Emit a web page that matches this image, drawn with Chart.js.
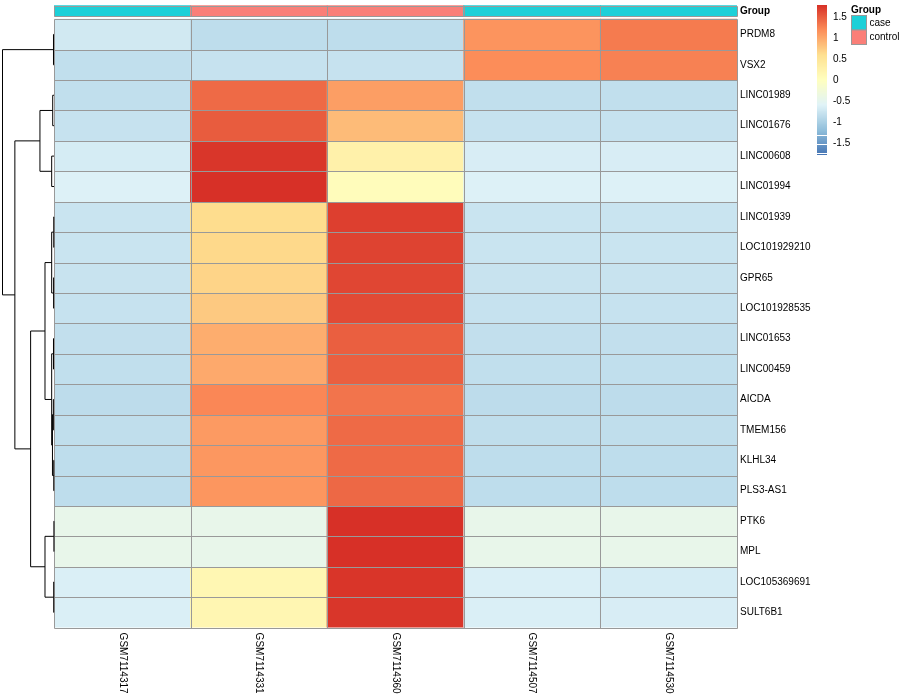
<!DOCTYPE html>
<html><head><meta charset="utf-8">
<script src="https://cdn.jsdelivr.net/npm/chart.js@4.4.1/dist/chart.umd.min.js"></script>
<style>html,body{margin:0;padding:0;background:#fff}canvas{display:block}</style>
</head><body>
<canvas id="c" width="900" height="700"></canvas>
<script>
// ---------- data ----------
const rowLabels = ["PRDM8","VSX2","LINC01989","LINC01676","LINC00608","LINC01994","LINC01939","LOC101929210","GPR65","LOC101928535","LINC01653","LINC00459","AICDA","TMEM156","KLHL34","PLS3-AS1","PTK6","MPL","LOC105369691","SULT6B1"];
const sampleLabels = ["GSM7114317","GSM7114331","GSM7114360","GSM7114507","GSM7114530"];
const sampleGroups = ["case","control","control","case","case"];
const groupNames = ["case","control"];
const groupColors = ["#1DD0D8","#FA7F78"];

// row-scaled expression (z-scores), one array per sample
const valsGSM7114317 = [-0.71,-0.83,-0.83,-0.79,-0.68,-0.62,-0.77,-0.77,-0.78,-0.79,-0.82,-0.83,-0.86,-0.84,-0.85,-0.85,-0.447,-0.447,-0.64,-0.64];
const valsGSM7114331 = [-0.85,-0.79,1.42,1.51,1.75,1.79,0.62,0.65,0.68,0.76,0.96,0.99,1.23,1.10,1.12,1.13,-0.447,-0.447,0.15,0.17];
const valsGSM7114360 = [-0.85,-0.79,1.07,0.86,0.27,0.05,1.69,1.67,1.65,1.62,1.49,1.49,1.35,1.42,1.42,1.43,1.789,1.789,1.76,1.75];
const valsGSM7114507 = [1.14,1.19,-0.83,-0.79,-0.66,-0.62,-0.77,-0.77,-0.78,-0.79,-0.82,-0.83,-0.86,-0.84,-0.85,-0.85,-0.447,-0.447,-0.64,-0.64];
const valsGSM7114530 = [1.31,1.27,-0.83,-0.79,-0.66,-0.62,-0.77,-0.77,-0.78,-0.79,-0.82,-0.83,-0.86,-0.84,-0.85,-0.85,-0.447,-0.447,-0.68,-0.66];

// colour scale
const paletteColors = ["#4575B4","#91BFDB","#E0F3F8","#FFFFBF","#FEE090","#FC8D59","#D73027"];
const scaleMin = -1.789, scaleMax = 1.789;
const legendTicks = [1.5, 1, 0.5, 0, -0.5, -1, -1.5];
const legendGaps = [-1.31, -1.52, -1.73];

// row dendrogram (hclust style: negative = leaf index, positive = merge index)
const mergeLeft   = [-1,-3,-5, 2,-7,-9, 5,-11,-13,-15, 9, 8, 7,-17,-19,14,13, 4, 1];
const mergeRight  = [-2,-4,-6, 3,-8,-10,6,-12,-14,-16,10,11,12,-18,-20,15,16,17,18];
const mergeHeight = [0.1,0.25,0.45,2.73,0.05,0.08,0.45,0.1,0.12,0.05,0.3,0.45,1.75,0.02,0.06,1.75,4.54,7.6,10];

// ---------- helpers ----------
const FONT = "'Liberation Sans', Arial, Helvetica, sans-serif";
const columns = [valsGSM7114317, valsGSM7114331, valsGSM7114360, valsGSM7114507, valsGSM7114530];
function hex2rgb(h){return [parseInt(h.slice(1,3),16),parseInt(h.slice(3,5),16),parseInt(h.slice(5,7),16)];}
const palRGB = paletteColors.map(hex2rgb);
function colorFor(v){
  let p = (v - scaleMin) / (scaleMax - scaleMin);
  p = Math.max(0, Math.min(1, p));
  const s = p * (palRGB.length - 1);
  const i = Math.min(palRGB.length - 2, Math.floor(s));
  const t = s - i;
  const a = palRGB[i], b = palRGB[i+1];
  return 'rgb(' + [0,1,2].map(k => Math.round(a[k] + (b[k]-a[k])*t)).join(',') + ')';
}
const nCols = sampleLabels.length, nRows = rowLabels.length;
const annTop = -0.44, annBottom = -0.11;

const datasets = rowLabels.map((name, r) => ({
  label: name,
  data: sampleLabels.map(() => [r, r + 1]),
  backgroundColor: columns.map(col => colorFor(col[r])),
  borderWidth: 0, inflateAmount: 0.5,
  grouped: false, barPercentage: 1, categoryPercentage: 1
}));
datasets.push({
  label: 'Group',
  data: sampleLabels.map(() => [annTop, annBottom]),
  backgroundColor: sampleGroups.map(g => groupColors[groupNames.indexOf(g)]),
  borderWidth: 0, inflateAmount: 0.5,
  grouped: false, barPercentage: 1, categoryPercentage: 1
});

const extras = {
  id: 'extras',
  afterDraw(chart) {
    const ctx = chart.ctx, xs = chart.scales.x, ys = chart.scales.y, ca = chart.chartArea;
    ctx.save();
    // cell borders (grey60)
    const cw = xs.getPixelForValue(1) - xs.getPixelForValue(0);
    const colEdges = [];
    for (let i = 0; i <= nCols; i++) colEdges.push(Math.round(xs.getPixelForValue(0) - cw / 2 + i * cw) + 0.5);
    ctx.strokeStyle = '#999999'; ctx.lineWidth = 1;
    const yTop = Math.round(ys.getPixelForValue(0)) + 0.5, yBot = Math.round(ys.getPixelForValue(nRows)) + 0.5;
    ctx.beginPath();
    for (let r = 0; r <= nRows; r++) {
      const y = Math.round(ys.getPixelForValue(r)) + 0.5;
      ctx.moveTo(colEdges[0], y); ctx.lineTo(colEdges[nCols], y);
    }
    colEdges.forEach(x => { ctx.moveTo(x, yTop); ctx.lineTo(x, yBot); });
    const aT = Math.round(ys.getPixelForValue(annTop)) + 0.5, aB = Math.round(ys.getPixelForValue(annBottom)) + 0.5;
    ctx.moveTo(colEdges[0], aT); ctx.lineTo(colEdges[nCols], aT);
    ctx.moveTo(colEdges[0], aB); ctx.lineTo(colEdges[nCols], aB);
    colEdges.forEach(x => { ctx.moveTo(x, aT); ctx.lineTo(x, aB); });
    ctx.stroke();

    // dendrogram
    const rightX = ca.left, leftX = 2.5;
    const rootH = Math.max(...mergeHeight);
    const X = h => rightX - h / rootH * (rightX - leftX);
    const nodes = [];
    const pos = id => id < 0 ? {x: rightX, y: ys.getPixelForValue(-id - 1 + 0.5)} : nodes[id - 1];
    ctx.strokeStyle = '#000'; ctx.lineWidth = 1;
    for (let m = 0; m < mergeHeight.length; m++) {
      const a = pos(mergeLeft[m]), b = pos(mergeRight[m]);
      const x = X(mergeHeight[m]);
      ctx.beginPath();
      ctx.moveTo(a.x, a.y); ctx.lineTo(x, a.y);
      ctx.lineTo(x, b.y); ctx.lineTo(b.x, b.y);
      ctx.stroke();
      nodes.push({x: x, y: (a.y + b.y) / 2});
    }
    // column labels (rotated, reading downward)
    ctx.fillStyle = '#000';
    ctx.font = '10px ' + FONT;
    ctx.textAlign = 'left'; ctx.textBaseline = 'middle';
    sampleLabels.forEach((s, i) => {
      ctx.save();
      ctx.translate(xs.getPixelForValue(i), ca.bottom + 5);
      ctx.rotate(Math.PI / 2);
      ctx.fillText(s, 0, 0);
      ctx.restore();
    });
    // colour legend
    const lx = 817, lw = 10, lt = 5, lb = 155;
    const ly = v => lt + (scaleMax - v) / (scaleMax - scaleMin) * (lb - lt);
    for (let y = lt; y < lb; y++) {
      const v = scaleMax - (y + 0.5 - lt) / (lb - lt) * (scaleMax - scaleMin);
      ctx.fillStyle = colorFor(v);
      ctx.fillRect(lx, y, lw, 1);
    }
    ctx.fillStyle = '#fff';
    legendGaps.forEach(v => ctx.fillRect(lx, Math.round(ly(v)), lw, 1));
    ctx.fillStyle = '#000';
    ctx.font = '10px ' + FONT;
    legendTicks.forEach(v => ctx.fillText(String(v), lx + lw + 6, ly(v)));
    // group legend
    const gx = 851;
    ctx.font = 'bold 10px ' + FONT;
    ctx.fillText('Group', gx, 10);
    ctx.font = '10px ' + FONT;
    groupNames.forEach((g, i) => {
      const by = 15.5 + i * 14.5;
      ctx.fillStyle = groupColors[i];
      ctx.fillRect(gx, by, 15, 14.5);
      ctx.strokeStyle = '#999999';
      ctx.strokeRect(gx + 0.5, by, 15, 14.5);
      ctx.fillStyle = '#000';
      ctx.fillText(g, gx + 18.5, by + 7.5);
    });
    ctx.restore();
  }
};

new Chart(document.getElementById('c'), {
  type: 'bar',
  data: { labels: sampleLabels, datasets: datasets },
  options: {
    responsive: false, animation: false,
    layout: { padding: { left: 54, top: 4, bottom: 72.4, right: 0 } },
    plugins: { legend: { display: false }, tooltip: { enabled: false } },
    scales: {
      x: { display: false, offset: true },
      y: {
        type: 'linear', position: 'right', reverse: true, min: -0.5, max: 20,
        grid: { display: false, drawTicks: false }, border: { display: false },
        afterFit: s => { s.width = 163; s.paddingTop = 0; s.paddingBottom = 0; },
        afterBuildTicks: s => { s.ticks = [{value: (annTop + annBottom) / 2}].concat(rowLabels.map((_, i) => ({value: i + 0.5}))); },
        ticks: {
          autoSkip: false, padding: 3, color: '#000',
          font: c => ({ family: FONT, size: 10, weight: c.index === 0 ? 'bold' : 'normal' }),
          callback: (v, i) => i === 0 ? 'Group' : rowLabels[i - 1]
        }
      }
    }
  },
  plugins: [extras]
});
</script></body></html>
